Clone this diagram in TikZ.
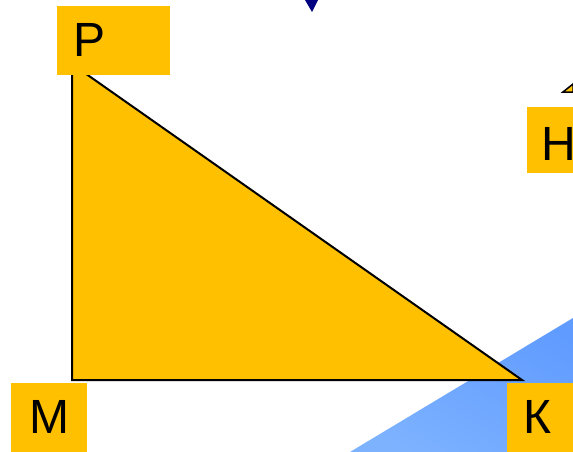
\documentclass[tikz,border=0pt]{standalone}
\usepackage{fontspec}
\setmainfont{Liberation Sans}
\definecolor{gold}{RGB}{255,192,0}
\definecolor{skyA}{RGB}{96,155,255}
\definecolor{skyB}{RGB}{125,178,255}
\definecolor{navyA}{RGB}{0,0,128}
\tikzset{
  labelbox/.style={fill=gold, draw=none},
  lettr/.style={anchor=base west, inner sep=0pt, font=\fontsize{48}{48}\selectfont, text=black},
  tri/.style={fill=gold, draw=black, line width=2pt, line join=miter}
}
\begin{document}
\begin{tikzpicture}[x=1pt,y=-1pt]
\useasboundingbox (0,0) rectangle (573,452);
% blue region
\begin{scope}
\clip (350,452) -- (573,318) -- (573,452) -- cycle;
\shade[top color=skyA, bottom color=skyB, shading angle=-30] (340,300) rectangle (573,452);
\end{scope}
% triangle
\coordinate (P) at (72,64);
\coordinate (M) at (72,380);
\coordinate (K) at (522,380);
\filldraw[tri] (P) -- (M) -- (K) -- cycle;
% label boxes
\fill[labelbox] (57,6) rectangle (170,75);
\fill[labelbox] (11,383) rectangle (87,452);
\fill[labelbox] (507,383) rectangle (573,452);
\fill[labelbox] (527,107) rectangle (573,173);
\node[lettr] (tP) at (73,57) {Р};
\node[lettr] (tM) at (29,433) {М};
\node[lettr] (tK) at (523,433) {К};
\node[lettr] (tH) at (541,160) {Н};
% top arrowhead
\fill[navyA] (305,0) -- (318,0) -- (312,12) -- cycle;
% partial mark at right
\filldraw[fill=gold, draw=black, line width=1.5pt] (563,92) -- (573,84) -- (573,92) -- cycle;
\end{tikzpicture}
\end{document}
